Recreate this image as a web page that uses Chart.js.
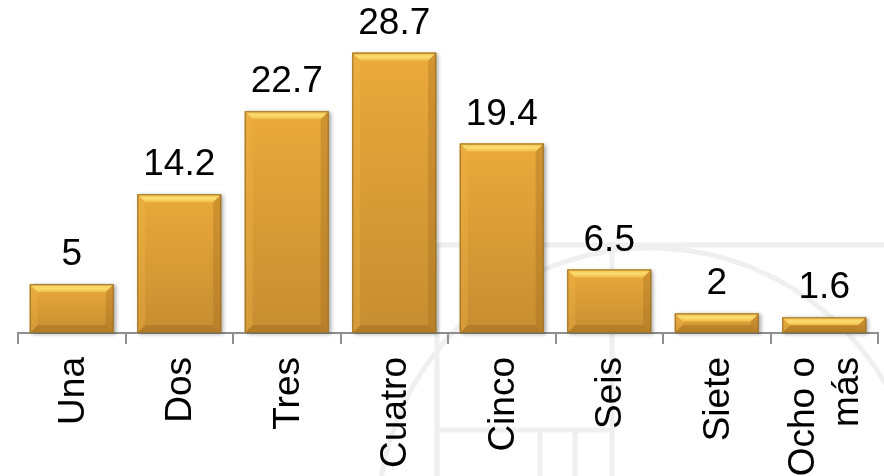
<!DOCTYPE html>
<html>
<head>
<meta charset="utf-8">
<script src="https://cdn.jsdelivr.net/npm/chart.js@4.4.0/dist/chart.umd.min.js"></script>
<style>
  html, body { margin: 0; padding: 0; background: #fff; }
  #wrap { width: 884px; height: 476px; position: relative; }
</style>
</head>
<body>
<div id="wrap"><canvas id="chart" width="884" height="476"></canvas></div>
<script>
// data
const categories = [['Una'], ['Dos'], ['Tres'], ['Cuatro'], ['Cinco'], ['Seis'], ['Siete'], ['Ocho o', 'más']];
const values = [5, 14.2, 22.7, 28.7, 19.4, 6.5, 2, 1.6];
const valueLabels = ['5', '14.2', '22.7', '28.7', '19.4', '6.5', '2', '1.6'];

const FONT = '"Liberation Sans", Arial, Helvetica, sans-serif';

// faint seal watermark behind the chart
const watermark = {
  id: 'watermark',
  beforeDraw(chart) {
    const ctx = chart.ctx;
    ctx.save();
    ctx.strokeStyle = '#efefef';
    ctx.lineWidth = 5;
    ctx.beginPath();
    ctx.moveTo(437, 245); ctx.lineTo(884, 245);
    ctx.moveTo(437, 245); ctx.lineTo(437, 476);
    ctx.moveTo(612, 245); ctx.lineTo(612, 476);
    ctx.moveTo(437, 430); ctx.lineTo(612, 430);
    ctx.moveTo(540, 430); ctx.lineTo(540, 476);
    ctx.moveTo(575, 430); ctx.lineTo(575, 476);
    ctx.stroke();
    ctx.beginPath();
    ctx.arc(650, 520, 272, Math.PI * 1.02, Math.PI * 1.98);
    ctx.stroke();
    ctx.restore();
  }
};

// bevelled gold bars, drawn over the bar elements
const bevel = {
  id: 'bevel',
  afterDatasetsDraw(chart) {
    const ctx = chart.ctx;
    const meta = chart.getDatasetMeta(0);
    meta.data.forEach((bar) => {
      const L = bar.x - bar.width / 2, R = bar.x + bar.width / 2;
      const T = bar.y, B = bar.base;
      const b = Math.min(8, (B - T) / 2);

      ctx.save();
      // shadow
      ctx.shadowColor = 'rgba(0,0,0,0.35)';
      ctx.shadowBlur = 4;
      ctx.shadowOffsetX = 2;
      ctx.shadowOffsetY = 1;
      ctx.fillStyle = '#d9a03a';
      ctx.fillRect(L, T, R - L, B - T);
      ctx.restore();

      ctx.save();
      // face
      const g = ctx.createLinearGradient(0, T, 0, B);
      g.addColorStop(0, '#eaaa3b');
      g.addColorStop(1, '#c68d31');
      ctx.fillStyle = g;
      ctx.fillRect(L, T, R - L, B - T);

      const poly = (pts, fill) => {
        ctx.beginPath();
        ctx.moveTo(pts[0][0], pts[0][1]);
        for (let i = 1; i < pts.length; i++) ctx.lineTo(pts[i][0], pts[i][1]);
        ctx.closePath();
        ctx.fillStyle = fill;
        ctx.fill();
      };
      const gt = ctx.createLinearGradient(0, T, 0, T + b);
      gt.addColorStop(0, '#f2bf48');
      gt.addColorStop(0.5, '#fcdd72');
      gt.addColorStop(1, '#f0bd48');
      poly([[L, T], [R, T], [R - b, T + b], [L + b, T + b]], gt);
      poly([[L, T], [L + b, T + b], [L + b, B - b], [L, B]], 'rgba(240,180,70,0.35)');
      poly([[R, T], [R, B], [R - b, B - b], [R - b, T + b]], 'rgba(160,105,30,0.35)');
      poly([[L, B], [L + b, B - b], [R - b, B - b], [R, B]], 'rgba(150,95,25,0.35)');

      ctx.strokeStyle = '#98722f';
      ctx.lineWidth = 1;
      ctx.strokeRect(L + 0.5, T + 0.5, R - L - 1, B - T - 1);
      ctx.restore();
    });
  }
};

// value labels above bars and rotated category labels under the axis
const labels = {
  id: 'labels',
  afterDraw(chart) {
    const ctx = chart.ctx;
    const meta = chart.getDatasetMeta(0);
    const xs = chart.scales.x;
    ctx.save();
    ctx.fillStyle = '#000';
    ctx.font = '37px ' + FONT;
    ctx.textAlign = 'center';
    ctx.textBaseline = 'alphabetic';
    meta.data.forEach((bar, i) => {
      ctx.fillText(valueLabels[i], bar.x, bar.y - 19);
    });

    ctx.font = '37px ' + FONT;
    const lh = 44;
    categories.forEach((lines, i) => {
      const cx = xs.getPixelForValue(i);
      lines.forEach((t, j) => {
        ctx.save();
        ctx.translate(cx + 2 + (j - (lines.length - 1) / 2) * lh, 357);
        ctx.rotate(-Math.PI / 2);
        ctx.textAlign = 'right';
        ctx.textBaseline = 'middle';
        ctx.fillText(t, 0, 0);
        ctx.restore();
      });
    });
    ctx.restore();
  }
};

new Chart(document.getElementById('chart'), {
  type: 'bar',
  data: {
    labels: categories.map((c) => c.join(' ')),
    datasets: [{
      data: values,
      backgroundColor: '#e0a53b',
      borderWidth: 0,
      categoryPercentage: 1,
      barPercentage: 0.78
    }]
  },
  options: {
    responsive: false,
    devicePixelRatio: 1,
    animation: false,
    layout: { padding: { left: 18, right: 6, top: 40, bottom: 0 } },
    plugins: {
      legend: { display: false },
      tooltip: { enabled: false }
    },
    scales: {
      x: {
        offset: true,
        grid: {
          offset: true,
          drawOnChartArea: false,
          drawTicks: true,
          tickLength: 11,
          color: '#8f8f8f',
          lineWidth: 2
        },
        border: { color: '#8f8f8f', width: 2 },
        ticks: { display: false },
        afterFit(scale) { scale.height = 143; }
      },
      y: {
        display: false,
        min: 0,
        max: 30
      }
    }
  },
  plugins: [watermark, bevel, labels]
});
</script>
</body>
</html>
